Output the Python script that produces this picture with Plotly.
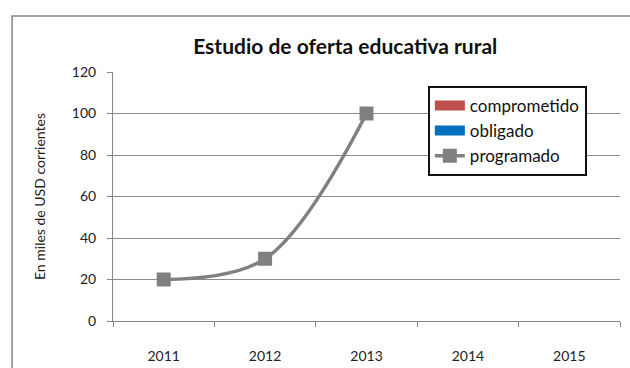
import plotly.graph_objects as go

years = ["2011", "2012", "2013", "2014", "2015"]
comprometido = [None, None, None, None, None]
obligado = [None, None, None, None, None]
programado = [20, 30, 100, None, None]

FONT = "Lato, 'Open Sans', sans-serif"

fig = go.Figure()
fig.add_trace(go.Scatter(x=years, y=comprometido, name="comprometido", mode="lines",
                         line=dict(color="#C0504D", width=10)))
fig.add_trace(go.Scatter(x=years, y=obligado, name="obligado", mode="lines",
                         line=dict(color="#0070C0", width=10)))
fig.add_trace(go.Scatter(x=years, y=programado, name="programado", mode="lines+markers",
                         line=dict(color="#808080", width=3.5, shape="spline", smoothing=1),
                         marker=dict(symbol="square", size=14, color="#808080")))

fig.update_layout(
    width=630, height=368,
    margin=dict(l=113, r=10, t=72, b=47),
    paper_bgcolor="white", plot_bgcolor="white",
    font=dict(family=FONT, size=14, color="#222222"),
    title=dict(text="<b>Estudio de oferta educativa rural</b>", x=0.548, xref="container",
               y=0.872, yref="container", xanchor="center", yanchor="middle",
               font=dict(size=21, color="#111111")),
    showlegend=True,
    legend=dict(x=0.621, y=0.944, xanchor="left", yanchor="top",
                bordercolor="#111111", borderwidth=2, bgcolor="white",
                font=dict(size=17, color="#111111"),
                itemwidth=30),
    xaxis=dict(type="category", range=[-0.5, 4.5], tickson="boundaries",
               ticks="outside", ticklen=5, tickcolor="#868686",
               showline=True, linecolor="#868686", linewidth=1, automargin=False,
               showgrid=False, tickfont=dict(size=14), ticklabelstandoff=22),
    yaxis=dict(range=[0, 120], dtick=20, ticks="outside", ticklen=5,
               tickcolor="#868686", showline=True, linecolor="#868686",
               showgrid=True, gridcolor="#8C8C8C", gridwidth=1, automargin=False,
               zeroline=False, tickfont=dict(size=14), ticklabelstandoff=8,
               title=dict(text="En miles de USD corrientes", font=dict(size=14), standoff=22)),
    shapes=[dict(type="rect", xref="paper", yref="paper",
                 x0=-0.199, y0=-0.3, x1=1.05, y1=1.225,
                 line=dict(color="#868686", width=1.5), layer="below")],
)

fig.write_html("out.html")
